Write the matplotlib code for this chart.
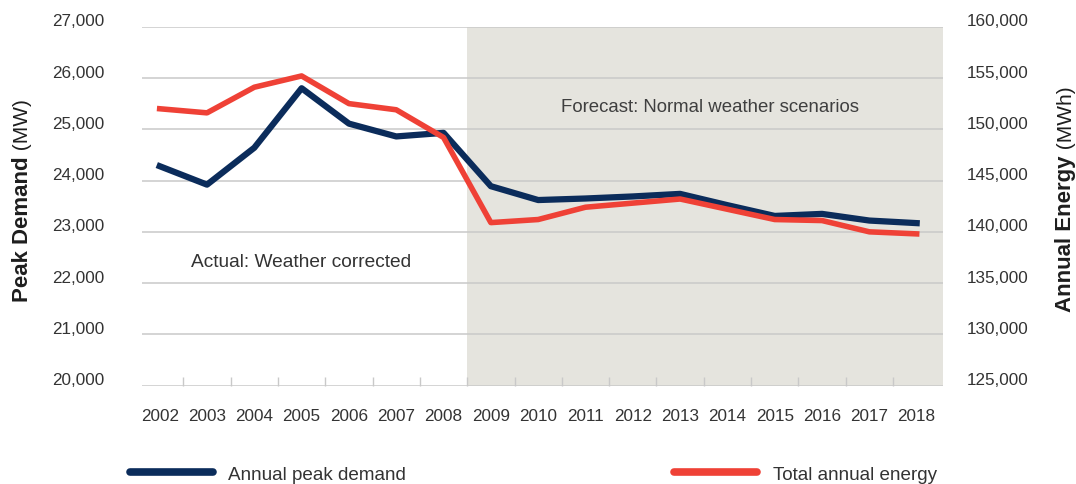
import numpy as np
import matplotlib.pyplot as plt
from matplotlib.lines import Line2D
from matplotlib.transforms import ScaledTranslation

# data
years = [str(y) for y in range(2002, 2019)]
peak_demand = [24280, 23920, 24640, 25800, 25110, 24860, 24930, 23890, 23620,
               23650, 23690, 23740, 23520, 23310, 23350, 23220, 23170]      # MW
annual_energy = [152000, 151600, 154100, 155200, 152500, 151900, 149200, 140900, 141200,
                 142400, 142800, 143200, 142200, 141200, 141100, 140000, 139800]  # MWh
forecast_start = '2009'
left_ticks = [20000, 21000, 22000, 23000, 24000, 25000, 26000, 27000]
right_ticks = [125000, 130000, 135000, 140000, 145000, 150000, 155000, 160000]

navy = '#0b2c5b'
red = '#ef4136'
shade = '#e5e4de'
grid_c = '#c9c9c9'
txt = '#333333'

plt.rcParams['font.family'] = ['Liberation Sans', 'DejaVu Sans']

fig = plt.figure(figsize=(10.76, 4.85), dpi=100)
ax = fig.add_axes([0.1317, 0.2027, 0.7444, 0.7402])
ax2 = ax.twinx()

x = np.arange(len(years))
fs = years.index(forecast_start) - 0.5
ax.set_xlim(-0.38, 16.55)
ax.set_ylim(20000, 27000)
ax2.set_ylim(125000, 160000)

ax.axvspan(fs, 16.55, color=shade, lw=0, zorder=0)
ax.set_axisbelow(True)
ax.yaxis.grid(True, color=grid_c, lw=1.1)

ax.plot(x, peak_demand, color=navy, lw=4.5, zorder=3)
ax2.plot(x, annual_energy, color=red, lw=4.0, zorder=3)

for s in list(ax.spines.values()) + list(ax2.spines.values()):
    s.set_visible(False)

ax.set_xticks(x, years)
ax.set_xticks(x[:-1] + 0.5, minor=True)
ax.tick_params(axis='x', which='major', length=0, pad=16, labelsize=12.3, labelcolor=txt)
ax.tick_params(axis='x', which='minor', direction='in', length=6.5, width=1, color=grid_c)

ax.set_yticks(left_ticks, [f'{v:,}' for v in left_ticks])
ax.tick_params(axis='y', length=0, pad=27, labelsize=12.3, labelcolor=txt)
ax2.set_yticks(right_ticks, [f'{v:,}' for v in right_ticks])
ax2.tick_params(axis='y', length=0, pad=17, labelsize=12.3, labelcolor=txt)
for lab in ax.get_yticklabels() + ax2.get_yticklabels():
    lab.set_va('baseline')
    lab.set_transform(lab.get_transform() + ScaledTranslation(0, 1 / 72, fig.dpi_scale_trans))

# region notes
ax.text(0.66, 22430, 'Actual: Weather corrected', fontsize=13.8, color='#333333',
        ha='left', va='center')
ax.text(8.48, 25440, 'Forecast: Normal weather scenarios', fontsize=13.4, color='#3f3f3f',
        ha='left', va='center')

# axis titles, bold name + regular units
t1 = fig.text(22.5 / 1076, 1 - 302 / 485, 'Peak Demand', rotation=90, ha='center', va='bottom',
              fontsize=16, fontweight='bold', color='#1e1e1e')
ax.annotate(' (MW)', xy=(0.5, 1), xycoords=t1, ha='center', va='bottom', rotation=90,
            fontsize=15, color='#1e1e1e', annotation_clip=False)
t2 = fig.text(1066 / 1076, 1 - 312 / 485, 'Annual Energy', rotation=90, ha='center', va='bottom',
              fontsize=16, fontweight='bold', color='#1e1e1e')
ax.annotate(' (MWh)', xy=(0.5, 1), xycoords=t2, ha='center', va='bottom', rotation=90,
            fontsize=15, color='#1e1e1e', annotation_clip=False)

handles = [Line2D([], [], color=navy, lw=5.5, solid_capstyle='round'),
           Line2D([], [], color=red, lw=5.5, solid_capstyle='round')]
fig.legend(handles, ['Annual peak demand', 'Total annual energy'], ncol=2,
           loc='center left', bbox_to_anchor=(130 / 1076, 1 - 475 / 485),
           frameon=False, fontsize=13.6, handlelength=4.4, handletextpad=0.8,
           columnspacing=14.2, borderpad=0, borderaxespad=0, labelcolor='#333333')

fig.savefig('out.png', dpi=100)
